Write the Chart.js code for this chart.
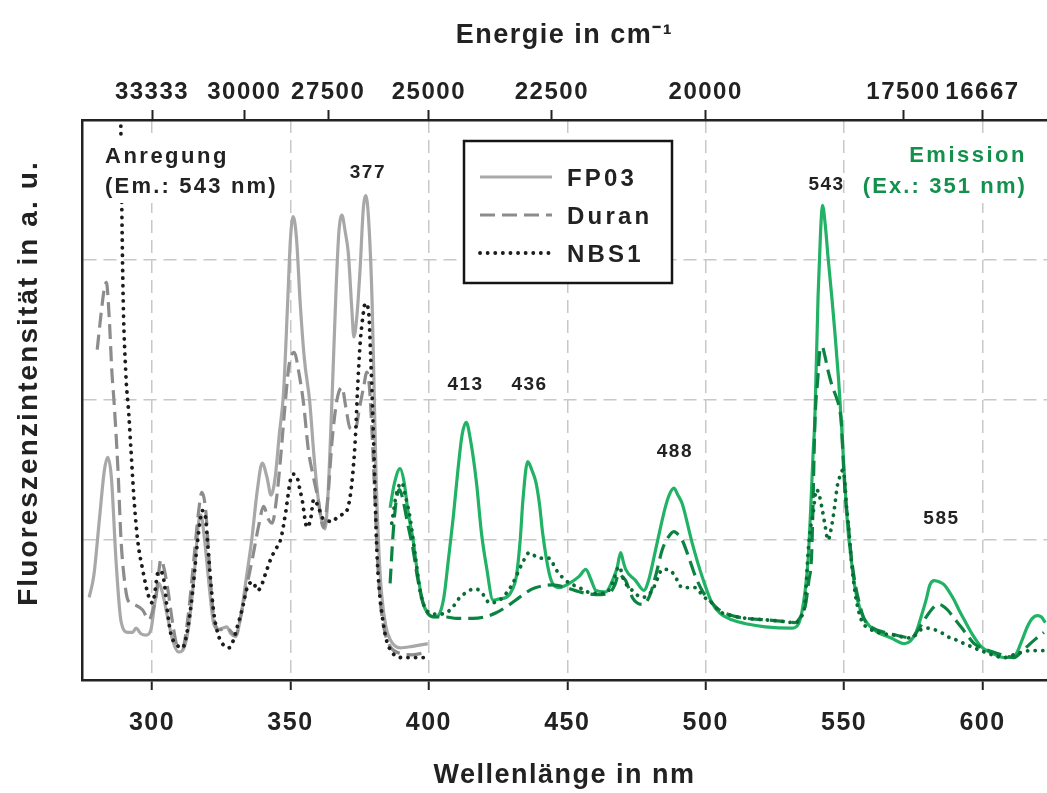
<!DOCTYPE html>
<html><head><meta charset="utf-8">
<script src="https://cdn.jsdelivr.net/npm/chart.js@4.4.1/dist/chart.umd.min.js"></script>
<style>html,body{margin:0;padding:0;background:#fff;overflow:hidden}#wrap{width:1047px;height:793px}</style>
</head><body><div id="wrap"><canvas id="c" width="1047" height="793"></canvas></div>
<script>
// ---------- data ----------
const bottomTicks = [300, 350, 400, 450, 500, 550, 600];
const topTickEnergies = [33333, 30000, 27500, 25000, 22500, 20000, 17500, 16667];
const yTicks = [0, 1, 2, 3, 4];
const seriesNames = ['FP03', 'Duran', 'NBS1'];

// Anregung (excitation)
const exFP03_nm = [277.3,279.0,281.0,282.8,284.0,285.3,287.0,288.8,291.3,293.0,294.2,296.0,297.8,299.6,301.0,302.5,303.8,305.6,307.5,309.5,311.0,313.0,315.0,316.9,317.6,319.0,320.5,322.3,324.0,325.4,327.0,328.5,330.2,332.0,334.0,336.0,338.0,339.8,341.5,343.0,344.5,346.0,347.5,349.0,350.0,351.0,352.2,353.5,355.0,357.0,358.5,360.0,361.5,362.5,363.5,365.0,366.5,367.5,368.6,369.8,370.9,372.2,372.9,374.0,375.2,376.3,377.3,378.5,379.5,380.3,381.0,382.0,383.0,384.5,386.0,389.6,394.0,399.6];
const exFP03    = [0.59,0.75,1.15,1.50,1.59,1.45,0.85,0.42,0.34,0.34,0.37,0.33,0.32,0.36,0.55,0.69,0.62,0.45,0.28,0.20,0.21,0.35,0.70,1.14,1.18,1.00,0.70,0.40,0.36,0.37,0.38,0.33,0.31,0.45,0.72,1.00,1.35,1.55,1.45,1.32,1.45,1.76,2.05,2.70,3.15,3.31,3.15,2.70,2.30,1.98,1.60,1.30,1.12,1.08,1.30,2.00,2.80,3.20,3.32,3.20,3.05,2.64,2.45,2.60,2.95,3.36,3.46,3.20,2.70,2.00,1.40,0.90,0.60,0.38,0.29,0.23,0.24,0.26];

const exDuran_nm = [280.2,281.5,282.8,283.5,284.5,285.5,286.3,287.7,288.8,290.0,291.3,293.5,296.6,298.9,300.3,301.4,302.3,303.2,304.3,305.6,307.5,309.2,311.0,313.0,315.1,316.8,318.0,319.4,320.8,322.3,324.5,327.0,330.2,332.0,334.0,336.2,338.5,340.3,342.0,343.4,345.0,346.5,348.0,349.5,351.4,353.0,354.7,356.5,358.3,360.0,361.9,363.5,365.0,366.8,368.6,370.0,371.5,373.4,375.0,376.5,377.6,378.5,379.4,380.5,381.5,382.5,384.0,386.0,389.6,394.0,399.6];
const exDuran    = [2.36,2.60,2.80,2.84,2.60,2.20,1.98,1.50,1.00,0.72,0.57,0.54,0.50,0.43,0.50,0.59,0.75,0.86,0.80,0.66,0.40,0.24,0.23,0.45,0.86,1.20,1.34,1.21,0.80,0.45,0.36,0.37,0.32,0.45,0.65,0.86,1.10,1.24,1.15,1.12,1.30,1.60,1.95,2.25,2.34,2.20,1.98,1.64,1.45,1.29,1.09,1.30,1.70,2.00,2.09,1.95,1.80,1.79,1.95,2.10,2.20,2.10,1.80,1.30,0.85,0.55,0.35,0.24,0.19,0.18,0.20];

const exNBS1_nm = [288.4,289.5,290.5,291.6,292.4,293.5,294.8,296.6,298.9,300.2,301.2,302.0,303.0,304.3,305.5,306.8,309.0,311.0,313.0,314.6,316.5,318.2,319.2,320.0,321.2,322.3,323.8,325.4,327.8,329.3,330.8,332.5,334.4,336.5,338.0,339.2,341.0,342.8,344.5,346.4,348.3,350.0,351.2,352.4,353.3,354.2,356.0,357.3,358.4,360.0,361.5,363.2,365.0,366.8,368.5,370.4,371.3,372.2,373.4,374.3,375.2,376.2,377.0,378.2,379.0,379.6,380.2,381.2,382.2,383.0,384.5,386.6,390.8,395.0,399.6];
const exNBS1    = [4.50,2.80,2.20,1.90,1.64,1.29,1.00,0.79,0.59,0.55,0.65,0.76,0.78,0.71,0.50,0.33,0.25,0.23,0.38,0.62,1.00,1.21,1.18,1.00,0.70,0.48,0.33,0.26,0.23,0.28,0.38,0.50,0.66,0.70,0.64,0.66,0.76,0.86,0.93,1.00,1.20,1.43,1.47,1.45,1.37,1.29,1.09,1.15,1.29,1.24,1.16,1.14,1.13,1.16,1.18,1.21,1.28,1.41,1.71,2.10,2.41,2.60,2.69,2.64,2.30,1.98,1.60,0.93,0.62,0.48,0.30,0.20,0.16,0.16,0.16];

// Emission
const emFP03_nm = [386.0,387.5,389.6,391.0,392.5,394.3,396.0,397.9,400.4,402.0,404.0,405.5,407.0,408.8,410.5,412.0,413.5,415.0,417.2,419.0,420.8,423.2,425.5,428.0,430.0,431.6,433.0,434.0,435.7,437.2,438.7,440.0,441.1,443.5,445.0,447.1,450.7,454.3,456.7,458.5,460.3,463.9,466.3,468.0,469.3,470.3,471.1,474.7,477.7,479.5,481.9,485.5,487.0,488.5,490.0,491.5,495.1,498.7,502.3,505.0,509.5,515.0,521.5,531.0,533.5,534.7,536.0,537.0,538.0,538.8,539.4,540.6,541.5,542.2,543.2,544.2,545.5,546.6,548.0,549.0,550.2,551.3,552.6,554.0,556.2,559.0,562.2,567.0,571.8,574.0,576.0,577.8,579.6,581.0,582.6,584.5,586.2,588.0,589.8,591.5,593.4,596.5,599.4,603.5,607.8,611.9,614.0,616.2,618.0,619.8,621.3,622.7];
const emFP03    = [1.23,1.40,1.51,1.42,1.20,1.00,0.75,0.55,0.46,0.45,0.48,0.60,0.85,1.16,1.50,1.75,1.84,1.72,1.41,1.05,0.81,0.57,0.58,0.59,0.64,0.74,1.00,1.29,1.56,1.50,1.41,1.25,1.05,0.76,0.68,0.66,0.69,0.74,0.79,0.72,0.64,0.63,0.71,0.80,0.91,0.84,0.79,0.71,0.64,0.72,0.93,1.24,1.33,1.37,1.32,1.26,0.98,0.74,0.55,0.48,0.43,0.40,0.38,0.37,0.40,0.48,0.65,0.86,1.25,1.62,1.84,2.74,3.20,3.39,3.25,3.02,2.75,2.50,2.15,1.84,1.43,1.10,0.86,0.65,0.48,0.39,0.34,0.30,0.26,0.28,0.34,0.45,0.57,0.68,0.71,0.70,0.68,0.63,0.57,0.50,0.43,0.32,0.24,0.19,0.16,0.18,0.27,0.38,0.44,0.46,0.45,0.41];

const emDuran_nm = [386.0,387.1,388.2,389.4,390.5,392.3,394.3,396.0,397.9,400.4,403.0,406.3,410.0,415.9,420.0,424.3,428.5,432.7,435.5,438.7,444.7,449.5,454.3,460.3,465.1,467.2,468.7,469.8,471.1,472.3,473.5,475.3,477.1,479.5,482.0,484.3,486.5,488.5,490.0,491.5,494.0,496.3,499.0,502.3,505.0,509.4,515.0,521.5,527.0,532.3,534.2,535.9,537.2,538.3,539.5,540.5,541.3,542.1,543.0,544.2,545.7,547.2,548.2,549.0,549.6,550.5,551.4,552.5,553.8,555.5,557.4,560.5,564.6,569.0,574.2,576.5,579.0,581.5,583.8,585.6,587.4,589.8,592.2,594.5,597.0,601.0,605.4,608.5,611.4,614.0,616.2,619.0,622.2];
const emDuran    = [0.69,1.05,1.28,1.36,1.30,1.12,0.93,0.72,0.55,0.46,0.45,0.45,0.44,0.44,0.45,0.48,0.53,0.59,0.63,0.66,0.68,0.66,0.63,0.61,0.62,0.68,0.76,0.74,0.71,0.65,0.59,0.55,0.54,0.59,0.75,0.93,1.02,1.06,1.04,1.00,0.87,0.74,0.63,0.55,0.50,0.46,0.44,0.43,0.42,0.41,0.45,0.52,0.70,0.91,1.86,2.15,2.36,2.38,2.32,2.21,2.10,2.02,1.95,1.84,1.60,1.30,1.14,0.90,0.71,0.55,0.43,0.37,0.34,0.32,0.30,0.35,0.43,0.50,0.54,0.53,0.50,0.44,0.38,0.32,0.26,0.22,0.19,0.17,0.16,0.20,0.24,0.29,0.34];

const emNBS1_nm = [386.6,388.3,390.2,391.7,393.2,395.0,396.8,398.5,400.4,403.0,406.3,409.0,411.2,414.0,416.0,418.3,420.0,421.9,425.5,428.0,430.3,432.0,433.9,436.3,438.0,439.9,443.5,445.9,449.5,454.3,459.1,463.9,466.5,468.7,470.5,473.5,477.1,480.7,482.5,484.3,486.0,487.9,489.5,491.5,496.3,499.0,502.3,505.0,509.4,515.0,521.5,527.0,532.3,534.5,535.9,537.0,538.0,538.8,540.0,540.9,541.9,543.0,544.2,545.5,546.6,547.5,548.4,549.6,550.3,550.8,551.8,552.6,554.0,556.2,559.0,562.2,568.0,574.2,577.8,580.0,582.6,585.0,587.4,590.0,593.4,599.4,603.5,607.8,612.6,617.4,622.7];
const emNBS1    = [1.12,1.33,1.41,1.30,1.16,0.90,0.64,0.52,0.48,0.47,0.48,0.53,0.59,0.63,0.65,0.64,0.60,0.55,0.57,0.62,0.69,0.76,0.84,0.91,0.89,0.87,0.87,0.79,0.71,0.66,0.62,0.62,0.70,0.81,0.71,0.64,0.59,0.64,0.72,0.79,0.79,0.77,0.72,0.66,0.66,0.60,0.55,0.49,0.46,0.44,0.43,0.42,0.41,0.45,0.55,0.91,1.10,1.19,1.36,1.33,1.24,1.12,1.00,1.10,1.24,1.38,1.45,1.50,1.40,1.26,1.05,0.86,0.62,0.43,0.37,0.34,0.32,0.30,0.36,0.37,0.36,0.34,0.31,0.29,0.26,0.21,0.18,0.16,0.19,0.21,0.21];

// annotation texts
const peakNm = [377, 413, 436, 488, 543, 585];
const exText = ['Anregung', '(Em.: 543 nm)'];
const emText = ['Emission', '(Ex.: 351 nm)'];

// ---------- chart ----------
const FONT = "'Liberation Sans', Arial, Helvetica, sans-serif";
const toXY = (xs, ys) => xs.map((x, i) => ({x: x, y: ys[i]}));
const XMIN = 274.7, XMAX = 623.3;

function ds(label, xs, ys, color, kind) {
  const d = {label: label, data: toXY(xs, ys), borderColor: color, backgroundColor: color,
    borderWidth: 3.2, pointRadius: 0, fill: false, cubicInterpolationMode: 'monotone',
    xAxisID: 'x', yAxisID: 'y', borderCapStyle: 'butt'};
  if (kind === 'dash') { d.borderDash = [15, 7]; }
  if (kind === 'dot') { d.borderDash = [0.1, 7.5]; d.borderCapStyle = 'round'; d.borderWidth = 3.8; }
  return d;
}

const datasets = [
  ds(seriesNames[2], exNBS1_nm, exNBS1, '#1c1c1c', 'dot'),
  ds(seriesNames[1], exDuran_nm, exDuran, '#8c8c8c', 'dash'),
  ds(seriesNames[0], exFP03_nm, exFP03, '#a8a8a8', 'solid'),
  ds(seriesNames[2], emNBS1_nm, emNBS1, '#0b6d35', 'dot'),
  ds(seriesNames[1], emDuran_nm, emDuran, '#0b8442', 'dash'),
  ds(seriesNames[0], emFP03_nm, emFP03, '#22b265', 'solid')
];

const bgPlugin = {
  id: 'bg',
  beforeDraw(chart) {
    const c = chart.ctx;
    c.save(); c.fillStyle = '#fff'; c.fillRect(0, 0, chart.width, chart.height); c.restore();
    c.letterSpacing = '1.5px';
  },
  afterLayout(chart) {
    const ys = chart.scales.y;
    if (ys && !ys._patchedTitle) {
      const orig = ys.drawTitle;
      ys.drawTitle = function () {
        const c = this.ctx; c.save(); c.letterSpacing = '2.1px'; c.translate(0, -17);
        orig.call(this); c.restore();
      };
      ys._patchedTitle = true;
    }
  }
};

function txt(c, s, x, y, size, color, align, spacing) {
  c.font = 'bold ' + size + 'px ' + FONT;
  c.fillStyle = color; c.textAlign = align; c.textBaseline = 'alphabetic';
  c.letterSpacing = spacing + 'px';
  c.fillText(s, x, y);
}

const annotPlugin = {
  id: 'annot',
  afterDatasetsDraw(chart, args, opts) {
    const c = chart.ctx, xs = chart.scales.x, ys = chart.scales.y;
    c.save();
    // excitation block
    c.fillStyle = '#fff'; c.fillRect(101, 136, 180, 67);
    txt(c, exText[0], 105, 163, 22, '#222', 'left', 2.5);
    txt(c, exText[1], 105, 193, 22, '#222', 'left', 2.2);
    // emission block
    c.fillStyle = '#fff'; c.fillRect(858, 136, 172, 67);
    txt(c, emText[0], 1027, 162, 22, '#13914c', 'right', 2.5);
    txt(c, emText[1], 1027, 193, 22, '#13914c', 'right', 2.1);
    // peak labels
    peakNm.forEach((p, i) => {
      txt(c, String(p), xs.getPixelForValue(opts.labelX[i]) + 1, ys.getPixelForValue(opts.labelY[i]), 19, '#222', 'center', 1.5);
    });
    // legend box
    const L = {x: 464, y: 141, w: 208, h: 142};
    c.fillStyle = '#fff'; c.fillRect(L.x, L.y, L.w, L.h);
    c.lineWidth = 2.5; c.strokeStyle = '#151515'; c.setLineDash([]);
    c.strokeRect(L.x, L.y, L.w, L.h);
    const rows = [177, 215, 253];
    const legendSets = [2, 1, 0].map(i => chart.data.datasets[i]);
    legendSets.forEach((d, i) => {
      c.save();
      c.strokeStyle = d.borderColor; c.lineWidth = d.borderWidth;
      c.setLineDash(d.borderDash || []); c.lineCap = d.borderCapStyle || 'butt';
      c.beginPath(); c.moveTo(480, rows[i]); c.lineTo(552, rows[i]); c.stroke();
      c.restore();
      txt(c, d.label, 567, rows[i] + 9, 24, '#222', 'left', 3.2);
    });
    c.restore();
  }
};

const tickFont = {family: FONT, size: 25, weight: 'bold'};
const topTickFont = {family: FONT, size: 24, weight: 'bold'};
const titleFont = {family: FONT, size: 27, weight: 'bold'};

new Chart(document.getElementById('c'), {
  type: 'line',
  data: {datasets: datasets},
  plugins: [bgPlugin, annotPlugin],
  options: {
    responsive: false, animation: false, devicePixelRatio: 1,
    layout: {padding: 0},
    plugins: {
      legend: {display: false}, tooltip: {enabled: false},
      annot: {labelX: [377.6, 412.9, 436.0, 488.5, 543.3, 584.8], labelY: [3.586, 2.071, 2.071, 1.593, 3.5, 1.114]}
    },
    scales: {
      x: {
        type: 'linear', axis: 'x', position: 'bottom', min: XMIN, max: XMAX,
        afterBuildTicks: s => { s.ticks = bottomTicks.map(v => ({value: v})); },
        afterFit: s => { s.height = 113; },
        ticks: {font: tickFont, color: '#222', padding: 18, autoSkip: false, maxRotation: 0, callback: v => String(v)},
        grid: {color: '#c8c8c8', lineWidth: 1.5, drawTicks: true, tickLength: 10, tickColor: '#222', tickWidth: 2},
        border: {display: true, color: '#222', width: 2.5, dash: [13, 7]},
        title: {display: true, text: 'Wellenlänge in nm', font: titleFont, color: '#222', padding: {top: 0, bottom: 1}}
      },
      xTop: {
        type: 'linear', axis: 'x', position: 'top', min: XMIN, max: XMAX,
        afterBuildTicks: s => { s.ticks = topTickEnergies.map(e => ({value: 1e7 / e})); },
        afterFit: s => { s.height = 120; },
        ticks: {font: topTickFont, color: '#222', padding: 3, autoSkip: false, maxRotation: 0,
          callback: (v, i) => String(topTickEnergies[i])},
        grid: {drawOnChartArea: false, drawTicks: true, tickLength: 10, tickColor: '#222', tickWidth: 2},
        border: {display: true, color: '#222', width: 2.5},
        title: {display: true, text: 'Energie in cm⁻¹', font: titleFont, color: '#222', padding: {top: 19, bottom: 0}}
      },
      y: {
        type: 'linear', position: 'left', min: 0, max: 4,
        afterBuildTicks: s => { s.ticks = yTicks.map(v => ({value: v})); },
        afterFit: s => { s.width = 82; },
        ticks: {display: false},
        grid: {drawTicks: false, lineWidth: 1.5,
          color: ctx => (ctx.tick && (ctx.tick.value === 0 || ctx.tick.value === 4)) ? 'rgba(0,0,0,0)' : '#c8c8c8'},
        border: {display: true, color: '#222', width: 2.5, dash: [13, 7]},
        title: {display: true, text: 'Fluoreszenzintensität in a. u.', font: {family: FONT, size: 28, weight: 'bold'}, color: '#222', padding: {top: 12}}
      }
    }
  }
});
</script></body></html>
